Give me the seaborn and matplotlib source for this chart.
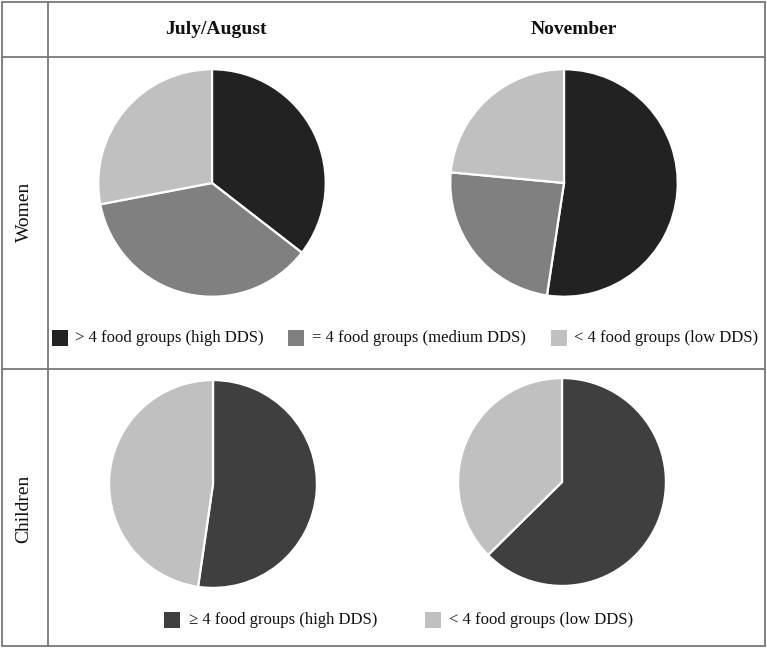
import matplotlib
matplotlib.use("Agg")
import matplotlib.pyplot as plt
from matplotlib.lines import Line2D
from matplotlib.patches import Rectangle
import seaborn as sns

# ---- data ----
periods = ["July/August", "November"]
groups = ["Women", "Children"]
women_labels = ["> 4 food groups (high DDS)", "= 4 food groups (medium DDS)", "< 4 food groups (low DDS)"]
women_colors = ["#222222", "#808080", "#c0c0c0"]
women_july = [35.5, 36.5, 28.0]
women_nov = [52.4, 24.1, 23.5]
children_labels = ["\u2265 4 food groups (high DDS)", "< 4 food groups (low DDS)"]
children_colors = ["#3f3f3f", "#c0c0c0"]
children_july = [52.3, 47.7]
children_nov = [62.6, 37.4]

sns.set_theme(style="white")
plt.rcParams["font.family"] = ["Liberation Serif", "DejaVu Serif"]

W, H = 767, 649
fig = plt.figure(figsize=(W / 100, H / 100), dpi=100)
fig.patch.set_facecolor("white")


def fx(x):
    return x / W


def fy(y):
    return 1 - y / H


# table grid lines
lc = "#777777"
lw = 1.3
for (x0, y0, x1, y1) in [
    (2, 2, 765, 2), (2, 646, 765, 646), (2, 2, 2, 646), (765, 2, 765, 646),
    (48, 2, 48, 646), (2, 57, 765, 57), (2, 369, 765, 369)]:
    fig.add_artist(Line2D([fx(x0), fx(x1)], [fy(y0), fy(y1)], color=lc, lw=lw,
                          transform=fig.transFigure))

# headers
fig.text(fx(216), fy(30), periods[0], ha="center", va="center", fontsize=14,
         fontweight="bold", color="#111111")
fig.text(fx(574), fy(30), periods[1], ha="center", va="center", fontsize=14,
         fontweight="bold", color="#111111")
fig.text(fx(24), fy(212), groups[0], ha="center", va="center", rotation=90,
         fontsize=14, color="#111111")
fig.text(fx(24), fy(509), groups[1], ha="center", va="center", rotation=90,
         fontsize=14, color="#111111")


def pie_at(cx, cy, r, values, colors):
    ax = fig.add_axes([fx(cx - r), fy(cy + r), 2 * r / W, 2 * r / H])
    ax.pie(values, colors=colors, startangle=90, counterclock=False,
           wedgeprops=dict(edgecolor="white", linewidth=1.6))
    ax.set_xlim(-1.02, 1.02)
    ax.set_ylim(-1.02, 1.02)
    ax.set_axis_off()
    return ax


pie_at(212, 183, 116, women_july, women_colors)
pie_at(564, 183, 116, women_nov, women_colors)
pie_at(213, 484, 106, children_july, children_colors)
pie_at(562, 482, 106, children_nov, children_colors)


def legend_items(items, y):
    for (sx, tx, label, color) in items:
        fig.add_artist(Rectangle((fx(sx), fy(y + 8)), 16 / W, 16 / H,
                                 facecolor=color, edgecolor="none",
                                 transform=fig.transFigure))
        fig.text(fx(tx), fy(y), label, ha="left", va="center", fontsize=12,
                 color="#111111")


legend_items([
    (52, 75, women_labels[0], women_colors[0]),
    (288, 312, women_labels[1], women_colors[1]),
    (551, 574, women_labels[2], women_colors[2]),
], 338)

legend_items([
    (164, 189, children_labels[0], children_colors[0]),
    (425, 449, children_labels[1], children_colors[1]),
], 620)

fig.savefig("out.png", dpi=100, facecolor="white")
